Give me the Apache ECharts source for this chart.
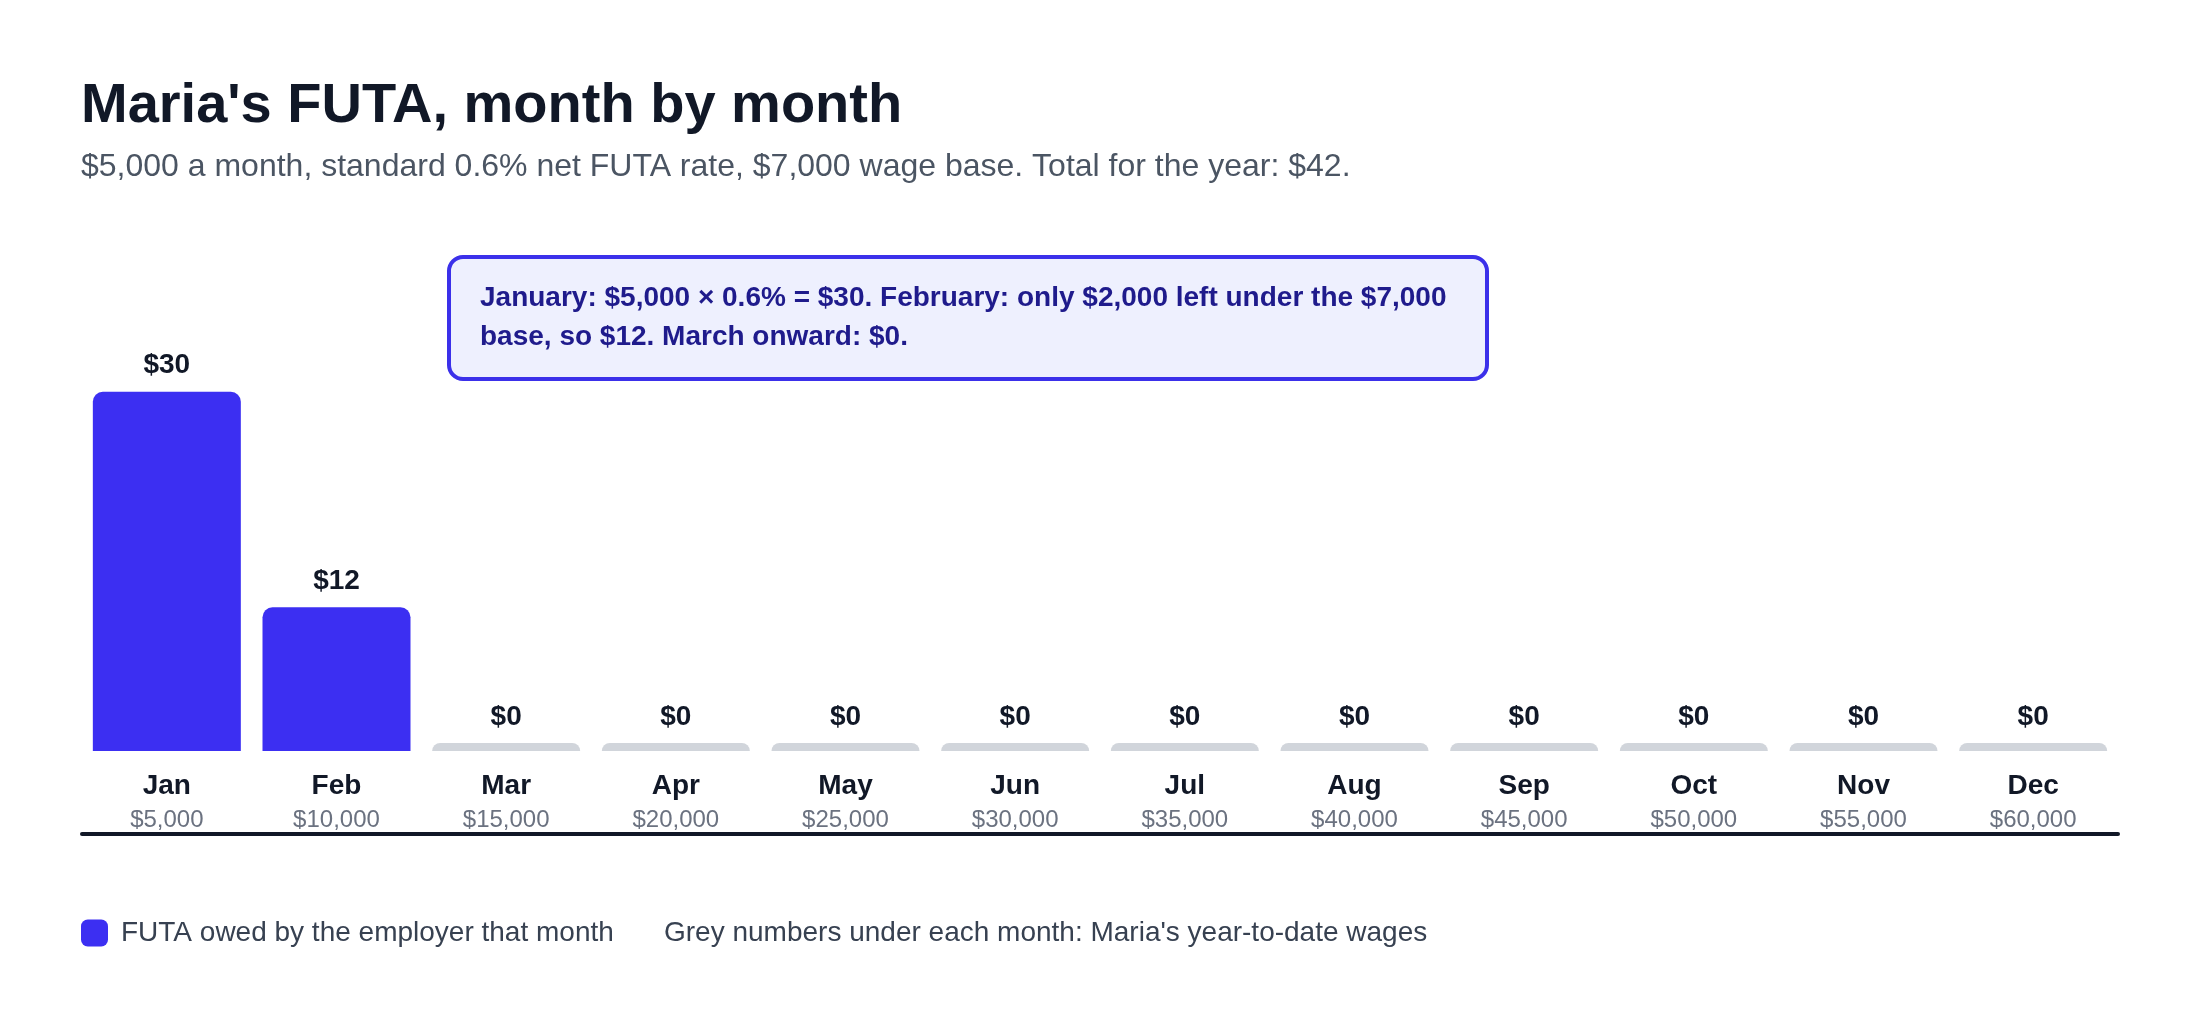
<!DOCTYPE html>
<html lang="en">
<head>
    <meta charset="UTF-8">
    <title>Maria's FUTA, month by month</title>
    <script src="https://cdn.jsdelivr.net/npm/echarts@6/dist/echarts.min.js"></script>
    <style>
        html, body { margin: 0; padding: 0; background: #fff; }
        #main { width: 2200px; height: 1020px; }
    </style>
</head>
<body>
<div id="main"></div>
<script>
    // months and what was owed each month
    var months = ['Jan', 'Feb', 'Mar', 'Apr', 'May', 'Jun', 'Jul', 'Aug', 'Sep', 'Oct', 'Nov', 'Dec'];
    var futaOwed = [30, 12, 0, 0, 0, 0, 0, 0, 0, 0, 0, 0];
    // year-to-date wages shown under each month
    var ytdWages = ['$5,000', '$10,000', '$15,000', '$20,000', '$25,000', '$30,000',
                    '$35,000', '$40,000', '$45,000', '$50,000', '$55,000', '$60,000'];

    var FONT = '"Liberation Sans", Arial, Helvetica, sans-serif';
    var BLUE = '#3c2ff2';
    var GREY = '#d1d5db';

    var myChart = echarts.init(document.getElementById('main'));

    var option = {
        backgroundColor: '#ffffff',
        textStyle: { fontFamily: FONT },
        title: [{
            text: "Maria's FUTA, month by month",
            left: 81,
            top: 79,
            padding: 0,
            textStyle: { fontFamily: FONT, fontSize: 56, fontWeight: 'bold', color: '#111827', lineHeight: 56 }
        }, {
            text: '$5,000 a month, standard 0.6% net FUTA rate, $7,000 wage base. Total for the year: $42.',
            left: 81,
            top: 151,
            padding: 0,
            textStyle: { fontFamily: FONT, fontSize: 32, fontWeight: 'normal', color: '#4b5563', lineHeight: 32 }
        }, {
            // the callout box
            text: 'January: $5,000 \u00d7 0.6% = $30. February: only $2,000 left under the $7,000\nbase, so $12. March onward: $0.',
            left: 449,
            top: 257,
            padding: [22, 41, 22, 31],
            backgroundColor: '#eef0fe',
            borderColor: '#3b30ea',
            borderWidth: 4,
            borderRadius: 14,
            textStyle: { fontFamily: FONT, fontSize: 28, fontWeight: 'bold', color: '#1f1b8c', lineHeight: 39 }
        }],
        legend: {
            left: 81,
            top: 919,
            padding: 0,
            itemWidth: 27,
            itemHeight: 27,
            icon: 'roundRect',
            selectedMode: false,
            data: ['FUTA owed by the employer that month'],
            textStyle: { fontFamily: FONT, fontSize: 28, color: '#374151', padding: [0, 0, 0, 8] }
        },
        graphic: [{
            type: 'text',
            left: 664,
            top: 919,
            style: {
                text: "Grey numbers under each month: Maria's year-to-date wages",
                font: '28px ' + FONT,
                fill: '#374151',
                lineHeight: 28
            }
        }],
        grid: { left: 82, right: 82, top: 272, bottom: 269 },
        xAxis: [{
            type: 'category',
            data: months,
            axisLine: { show: false },
            axisTick: { show: false },
            axisLabel: {
                margin: 18,
                formatter: function (value, idx) {
                    return '{m|' + value + '}\n{w|' + ytdWages[idx] + '}';
                },
                rich: {
                    m: { fontFamily: FONT, fontSize: 28, fontWeight: 'bold', color: '#111827', lineHeight: 34 },
                    w: { fontFamily: FONT, fontSize: 24, color: '#6b7280', lineHeight: 34 }
                }
            }
        }, {
            // just the dark rule under the labels
            type: 'category',
            data: months,
            position: 'bottom',
            offset: 83,
            axisLine: { show: true, lineStyle: { color: '#111827', width: 4 } },
            axisTick: { show: false },
            axisLabel: { show: false }
        }],
        yAxis: {
            type: 'value',
            min: 0,
            max: 40,
            show: false,
            splitLine: { show: false }
        },
        series: [{
            name: 'FUTA owed by the employer that month',
            type: 'bar',
            data: futaOwed,
            barWidth: 148,
            barMinHeight: 8,
            color: BLUE,
            itemStyle: {
                borderRadius: [10, 10, 0, 0],
                color: function (p) { return p.value > 0 ? BLUE : GREY; }
            },
            label: {
                show: true,
                position: 'top',
                distance: 12,
                formatter: function (p) { return '$' + p.value; },
                fontFamily: FONT,
                fontSize: 28,
                fontWeight: 'bold',
                color: '#111827',
                lineHeight: 28
            },
            emphasis: { disabled: true }
        }]
    };

    myChart.setOption(option);
</script>
</body>
</html>
